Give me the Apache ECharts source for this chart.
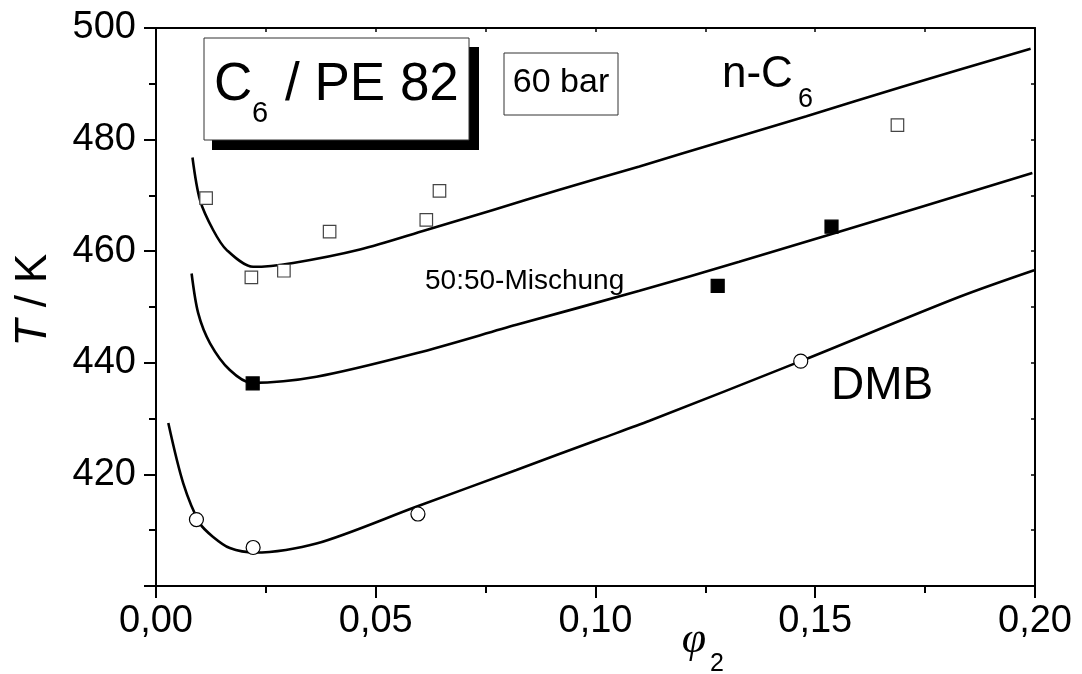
<!DOCTYPE html>
<html>
<head>
<meta charset="utf-8">
<title>C6 / PE 82 – Entmischungstemperaturen</title>
<script src="https://cdn.jsdelivr.net/npm/echarts@6/dist/echarts.min.js"></script>
<style>
  html, body { margin: 0; padding: 0; background: #fff; }
  #chart { width: 1082px; height: 674px; }
</style>
</head>
<body>
<div id="chart"></div>
<script>
// Axis ranges and tick settings
const xRange = [0, 0.20];
const xStep = 0.05;
const yRange = [400, 500];
const yStep = 20;

// Measured cloud points: [phi2, T/K]
const nC6Points = [
  [0.0114, 469.5], [0.0217, 455.3], [0.0291, 456.5], [0.0395, 463.5],
  [0.0615, 465.6], [0.0645, 470.8], [0.1687, 482.6]
];
const mixPoints = [
  [0.0220, 436.3], [0.1278, 453.8], [0.1537, 464.4]
];
const dmbPoints = [
  [0.0092, 411.9], [0.0221, 406.9], [0.0596, 412.9], [0.1467, 440.3]
];

// Calculated cloud-point curves: [phi2, T/K]
const nC6Curve = [
  [0.0083, 476.8], [0.0100, 469.2], [0.0130, 463.8], [0.0161, 460.2],
  [0.0221, 457.2], [0.0312, 457.9], [0.0464, 460.3], [0.0615, 463.8],
  [0.0767, 467.4], [0.0918, 471.0], [0.1100, 475.2], [0.1290, 479.7],
  [0.1480, 484.2], [0.1700, 489.5], [0.1990, 496.3]
];
const mixCurve = [
  [0.0081, 456.0], [0.0096, 448.9], [0.0123, 443.5], [0.0168, 438.7],
  [0.0218, 436.4], [0.0365, 437.5], [0.0592, 441.7], [0.0820, 446.8],
  [0.1100, 452.9], [0.1327, 458.1], [0.1547, 463.3], [0.1994, 474.0]
];
const dmbCurve = [
  [0.0028, 429.2], [0.0062, 418.4], [0.0100, 411.2], [0.0130, 408.8],
  [0.0168, 406.8], [0.0225, 406.0], [0.0365, 407.6], [0.0592, 414.2],
  [0.0820, 420.8], [0.1009, 426.3], [0.1123, 429.6], [0.1467, 440.3],
  [0.1827, 451.8], [0.1998, 456.6]
];

const FONT = '"Liberation Sans", Arial, Helvetica, sans-serif';
const SERIF = '"Liberation Serif", "Times New Roman", serif';

const chart = echarts.init(document.getElementById('chart'), null, { renderer: 'canvas' });

const commaFmt = v => v.toFixed(2).replace('.', ',');

const mainX = {
  type: 'value', min: xRange[0], max: xRange[1], interval: xStep, position: 'bottom',
  axisLine: { show: true, onZero: false, lineStyle: { color: '#000', width: 2 } },
  axisTick: { show: true, inside: false, length: 12, lineStyle: { color: '#000', width: 2 } },
  minorTick: { show: true, splitNumber: 2, length: 7, lineStyle: { color: '#000', width: 2 } },
  axisLabel: { color: '#000', fontSize: 38, fontFamily: FONT, margin: 17, formatter: commaFmt },
  splitLine: { show: false }
};
const topX = {
  type: 'value', min: xRange[0], max: xRange[1], interval: xStep, position: 'top',
  axisLine: { show: true, onZero: false, lineStyle: { color: '#000', width: 2 } },
  axisTick: { show: true, inside: true, length: 4, lineStyle: { color: '#000', width: 1.5 } },
  minorTick: { show: true, splitNumber: 2, length: 4, lineStyle: { color: '#000', width: 1.5 } },
  axisLabel: { show: false },
  splitLine: { show: false }
};
const mainY = {
  type: 'value', min: yRange[0], max: yRange[1], interval: yStep, position: 'left',
  axisLine: { show: true, onZero: false, lineStyle: { color: '#000', width: 2 } },
  axisTick: { show: true, inside: false, length: 12, lineStyle: { color: '#000', width: 2 } },
  minorTick: { show: true, splitNumber: 2, length: 7, lineStyle: { color: '#000', width: 2 } },
  axisLabel: { color: '#000', fontSize: 38, fontFamily: FONT, margin: 20, showMinLabel: false },
  splitLine: { show: false }
};
const rightY = {
  type: 'value', min: yRange[0], max: yRange[1], interval: yStep, position: 'right',
  axisLine: { show: true, onZero: false, lineStyle: { color: '#000', width: 2 } },
  axisTick: { show: true, inside: true, length: 4, lineStyle: { color: '#000', width: 1.5 } },
  minorTick: { show: true, splitNumber: 2, length: 4, lineStyle: { color: '#000', width: 1.5 } },
  axisLabel: { show: false },
  splitLine: { show: false }
};

function curve(name, data) {
  return {
    name, type: 'line', data, smooth: 0.3, showSymbol: false, symbol: 'none',
    lineStyle: { color: '#000', width: 2.6 }, z: 3, animation: false
  };
}

function points(name, data, symbol, size, fill, border) {
  return {
    name, type: 'scatter', data, symbol, symbolSize: size, z: 5, animation: false,
    itemStyle: { color: fill, borderColor: border, borderWidth: 1.2, opacity: 1 }
  };
}

const option = {
  backgroundColor: '#fff',
  animation: false,
  grid: { left: 156, right: 47, top: 28, bottom: 88, containLabel: false },
  xAxis: [mainX, topX],
  yAxis: [mainY, rightY],
  series: [
    curve('n-C6 Kurve', nC6Curve),
    curve('50:50 Kurve', mixCurve),
    curve('DMB Kurve', dmbCurve),
    points('n-C6', nC6Points, 'rect', 12.5, '#fff', '#444'),
    points('50:50-Mischung', mixPoints, 'rect', 13, '#000', '#000'),
    points('DMB', dmbPoints, 'circle', 14, '#fff', '#000')
  ],
  graphic: [
    // system title box with drop shadow
    { type: 'rect', z: 20, shape: { x: 212, y: 47, width: 267, height: 103 }, style: { fill: '#000' } },
    { type: 'rect', z: 21, shape: { x: 204, y: 38, width: 265, height: 102 }, style: { fill: '#fff', stroke: '#333', lineWidth: 1 } },
    { type: 'text', z: 22, x: 214, y: 85, style: { text: 'C', font: '53px ' + FONT, fill: '#000', align: 'left', verticalAlign: 'middle' } },
    { type: 'text', z: 22, x: 252, y: 114, style: { text: '6', font: '29px ' + FONT, fill: '#000', align: 'left', verticalAlign: 'middle' } },
    { type: 'text', z: 22, x: 285, y: 85, style: { text: '/ PE 82', font: '53px ' + FONT, fill: '#000', align: 'left', verticalAlign: 'middle' } },
    // pressure box
    { type: 'rect', z: 21, shape: { x: 504, y: 53, width: 114, height: 62 }, style: { fill: '#fff', stroke: '#333', lineWidth: 1 } },
    { type: 'text', z: 22, x: 561, y: 83, style: { text: '60 bar', font: '34px ' + FONT, fill: '#000', align: 'center', verticalAlign: 'middle' } },
    // curve labels
    { type: 'text', z: 22, x: 722, y: 75, style: { text: 'n-C', font: '44px ' + FONT, fill: '#000', align: 'left', verticalAlign: 'middle' } },
    { type: 'text', z: 22, x: 798, y: 100, style: { text: '6', font: '27px ' + FONT, fill: '#000', align: 'left', verticalAlign: 'middle' } },
    { type: 'text', z: 22, x: 425, y: 281, style: { text: '50:50-Mischung', font: '28px ' + FONT, fill: '#000', align: 'left', verticalAlign: 'middle' } },
    { type: 'text', z: 22, x: 831, y: 386, style: { text: 'DMB', font: '46px ' + FONT, fill: '#000', align: 'left', verticalAlign: 'middle' } },
    // axis titles
    {
      type: 'text', z: 22, x: 34, y: 300, rotation: Math.PI / 2,
      style: {
        text: '{i|T} / K', align: 'center', verticalAlign: 'middle', fill: '#000',
        font: '44px ' + FONT,
        rich: { i: { fontStyle: 'italic', fontSize: 44, fontFamily: FONT, fill: '#000' } }
      }
    },
    { type: 'text', z: 22, x: 694, y: 640, style: { text: 'φ', font: 'italic 44px ' + SERIF, fill: '#000', align: 'center', verticalAlign: 'middle' } },
    { type: 'text', z: 22, x: 710, y: 664, style: { text: '2', font: '25px ' + FONT, fill: '#000', align: 'left', verticalAlign: 'middle' } }
  ]
};

chart.setOption(option);
</script>
</body>
</html>
